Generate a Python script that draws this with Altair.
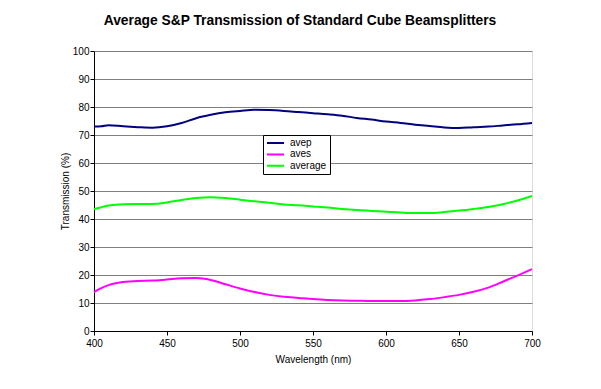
import altair as alt
import pandas as pd

wavelength = [400, 405, 410, 420, 430, 440, 450, 460, 470, 480, 490, 500, 510, 520,
              530, 540, 550, 560, 570, 580, 590, 600, 610, 620, 630, 640, 650, 660,
              670, 680, 690, 700]
avep = [73.0, 73.1, 73.5, 73.1, 72.8, 72.6, 73.1, 74.3, 76.0, 77.2, 78.1, 78.6, 79.0, 78.9,
        78.6, 78.2, 77.8, 77.4, 76.9, 76.1, 75.5, 74.8, 74.3, 73.7, 73.2, 72.7, 72.5, 72.8,
        73.0, 73.4, 73.8, 74.3]
aves = [13.9, 15.3, 16.4, 17.5, 17.9, 18.0, 18.4, 18.8, 18.9, 18.2, 16.7, 15.2, 13.9, 12.9,
        12.2, 11.8, 11.4, 11.1, 10.9, 10.8, 10.7, 10.7, 10.7, 10.9, 11.4, 12.1, 12.9, 14.0,
        15.5, 17.6, 19.8, 22.1]
average = [43.5, 44.2, 44.8, 45.3, 45.4, 45.4, 45.9, 46.8, 47.5, 47.8, 47.5, 46.9, 46.3, 45.8,
           45.2, 44.9, 44.5, 44.1, 43.6, 43.2, 42.9, 42.6, 42.3, 42.1, 42.1, 42.5, 43.0, 43.6,
           44.3, 45.3, 46.6, 48.2]

series_names = ["avep", "aves", "average"]
series_colors = ["#000080", "#FF00FF", "#00FF00"]
x_ticks = [400, 450, 500, 550, 600, 650, 700]
y_ticks = [0, 10, 20, 30, 40, 50, 60, 70, 80, 90, 100]

rows = []
for name, vals in zip(series_names, [avep, aves, average]):
    for w, v in zip(wavelength, vals):
        rows.append({"wl": w, "value": v, "series": name})
df = pd.DataFrame(rows)

FONT = "Liberation Sans"

chart = alt.Chart(df).mark_line(strokeWidth=2, interpolate="monotone").encode(
    x=alt.X("wl:Q",
            scale=alt.Scale(domain=[400, 700], nice=False, zero=False),
            axis=alt.Axis(values=x_ticks, title="Wavelength (nm)", grid=False,
                          labelFlush=False,
                          domainColor="black", tickColor="black", tickSize=4,
                          labelPadding=3, titlePadding=6, labelFont=FONT, titleFont=FONT,
                          labelFontSize=10, titleFontSize=10, titleFontWeight="normal",
                          labelColor="black", titleColor="black")),
    y=alt.Y("value:Q",
            scale=alt.Scale(domain=[0, 100], nice=False),
            axis=alt.Axis(values=y_ticks, title="Transmission (%)", grid=True,
                          gridColor="#808080", gridOpacity=1, labelFlush=False,
                          domainColor="black", tickColor="black", tickSize=4,
                          labelPadding=1, titlePadding=2, labelFont=FONT, titleFont=FONT,
                          labelFontSize=10, titleFontSize=10, titleFontWeight="normal",
                          labelColor="black", titleColor="black")),
    color=alt.Color("series:N",
                    scale=alt.Scale(domain=series_names, range=series_colors),
                    sort=series_names,
                    legend=alt.Legend(orient="none", legendX=169, legendY=84, title=None,
                                      symbolType="stroke", symbolSize=289, symbolStrokeWidth=2,
                                      strokeColor="black", fillColor="white", padding=3,
                                      labelFont=FONT, labelFontSize=10, labelColor="black",
                                      labelOffset=5, clipHeight=10, rowPadding=1.4)),
).properties(
    width=438,
    height=280,
    padding={"left": 86, "top": 43, "right": 61, "bottom": 45},
    autosize=alt.AutoSizeParams(type="none"),
    title=alt.TitleParams("Average S&P Transmission of Standard Cube Beamsplitters",
                          font=FONT, fontSize=13.8, fontWeight="bold", color="black",
                          anchor="middle", dx=-13, offset=18),
).configure_view(
    stroke="#909090", strokeWidth=1
).configure(background="white")

chart.save("out.html", embed_options={"renderer": "svg", "actions": False})
